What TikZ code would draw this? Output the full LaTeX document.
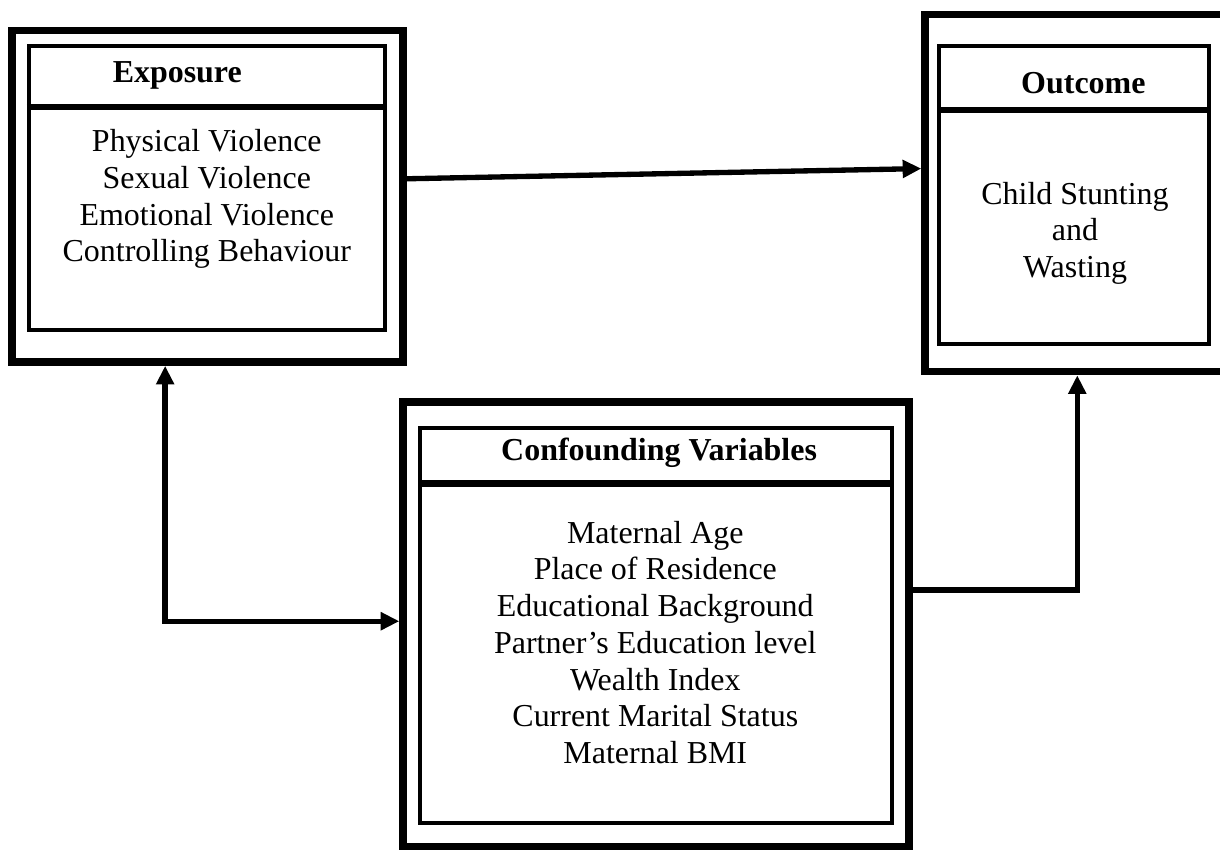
\documentclass[tikz,border=0pt]{standalone}
\usepackage{fontspec}
\setmainfont{Liberation Serif}
\usetikzlibrary{arrows.meta}
\tikzset{
  flowarrow/.style={-{Triangle[length=7pt,width=6.5pt]}, line width=2pt},
  flowboth/.style={flowarrow, {Triangle[length=7pt,width=6.5pt]}-{Triangle[length=7pt,width=6.5pt]}},
  outerbox/.style={draw, line width=2.8pt, inner sep=0pt},
  innerbox/.style={draw, line width=1.5pt, inner sep=0pt},
  headrule/.style={line width=2.4pt},
  boxtitle/.style={font=\bfseries\fontsize{12}{13.8}\selectfont},
  boxbody/.style={align=center, font=\fontsize{12}{13.8}\selectfont}
}

\begin{document}
\begin{tikzpicture}
  \useasboundingbox (0,0) rectangle (16.104,11.26);
  \clip (0,0) rectangle (16.104,11.26);
  % exposure
  \node[outerbox, minimum width=5.16cm, minimum height=4.38cm] (expo) at (2.74,8.67) {};
  \node[innerbox, minimum width=4.70cm, minimum height=3.75cm] (expoin) at (2.73,8.78) {};
  \draw[headrule] (expoin.west |- 0,9.85) -- (expoin.east |- 0,9.85);
  \node[boxtitle] (expot) at (2.34,10.27) {Exposure};
  \node[boxbody] (expob) at (2.73,8.63) {Physical Violence\\Sexual Violence\\Emotional Violence\\Controlling Behaviour};
  % outcome
  \node[outerbox, minimum width=4.00cm, minimum height=4.71cm] (outc) at (14.21,8.71) {};
  \node[innerbox, minimum width=3.56cm, minimum height=3.93cm] (outcin) at (14.18,8.69) {};
  \draw[headrule] (outcin.west |- 0,9.81) -- (outcin.east |- 0,9.81);
  \node[boxtitle] (outct) at (14.30,10.16) {Outcome};
  \node[boxbody] (outcb) at (14.19,8.18) {Child Stunting\\and\\Wasting};
  % confounders
  \node[outerbox, minimum width=6.68cm, minimum height=5.87cm] (conf) at (8.66,3.02) {};
  \node[innerbox, minimum width=6.23cm, minimum height=5.21cm] (confin) at (8.66,3.00) {};
  \draw[headrule] (confin.west |- 0,4.88) -- (confin.east |- 0,4.88);
  \node[boxtitle] (conft) at (8.70,5.28) {Confounding Variables};
  \node[boxbody] (confb) at (8.65,2.78) {Maternal Age\\Place of Residence\\Educational Background\\Partner’s Education level\\Wealth Index\\Current Marital Status\\Maternal BMI};
  % connectors
  \coordinate (elbow) at (2.18,3.06);
  \coordinate (turn) at (14.22,3.47);
  \draw[flowarrow] (expo.5.8) -- (outc.171);
  \draw[flowboth] (elbow |- expo.south) -- (elbow) -- (elbow -| conf.west);
  \draw[flowarrow] (turn -| conf.east) -- (turn) -- (turn |- outc.south);
\end{tikzpicture}
\end{document}
